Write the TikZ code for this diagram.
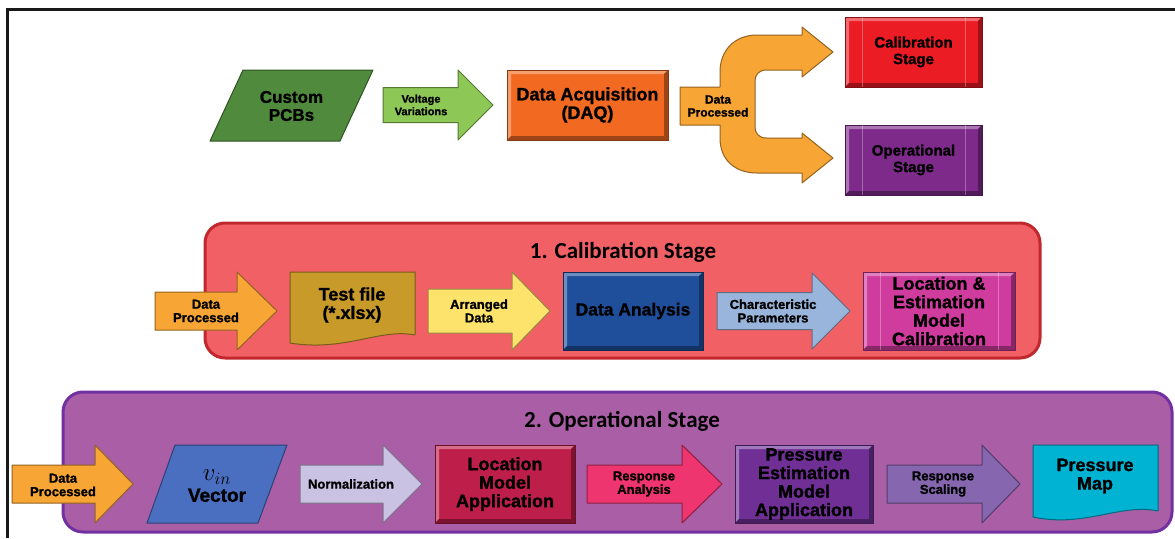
\documentclass[tikz,border=0pt]{standalone}
\usepackage{fontspec}
\setmainfont{Liberation Sans}[BoldFeatures={FakeBold=1.2}]
\newfontfamily\headfont{Carlito}
\usetikzlibrary{calc}

\definecolor{pcbgreen}{HTML}{508A3C}
\definecolor{voltgreen}{HTML}{8DC857}
\definecolor{daqorange}{HTML}{F26A22}
\definecolor{procorange}{HTML}{F7A535}
\definecolor{calred}{HTML}{EC1C24}
\definecolor{oppurple}{HTML}{7D2A8A}
\definecolor{calfill}{HTML}{F16065}
\definecolor{calline}{HTML}{C1272D}
\definecolor{testgold}{HTML}{C89A2A}
\definecolor{arryellow}{HTML}{FDE36C}
\definecolor{anablue}{HTML}{1F4F9B}
\definecolor{charblue}{HTML}{9AB5DC}
\definecolor{lecmag}{HTML}{CF3C9E}
\definecolor{opfill}{HTML}{A95EA6}
\definecolor{opline}{HTML}{7131A0}
\definecolor{vinblue}{HTML}{4A6EC0}
\definecolor{normlav}{HTML}{C9C2E3}
\definecolor{lmacrim}{HTML}{BE1E4A}
\definecolor{respink}{HTML}{EE356F}
\definecolor{pemapurp}{HTML}{6F2F95}
\definecolor{scalpurp}{HTML}{8666AE}
\definecolor{mapcyan}{HTML}{00B3D3}

\tikzset{
  lab/.style={align=center, text=black, inner sep=0pt},
  big/.style={lab, font=\bfseries\fontsize{18}{18.5}\selectfont},
  small/.style={lab, font=\bfseries\fontsize{13}{13.5}\selectfont},
  grouptitle/.style={inner sep=0pt, anchor=base, font=\headfont\bfseries\fontsize{23}{26}\selectfont},
  group/.style={draw=#1, line width=3pt, rounded corners=20pt, inner sep=0pt},
  shapeedge/.style={fill=#1, draw=#1!60!black, line width=1pt, line join=round},
  bevelbox/.style={draw=#1!55!black, fill=#1, line width=1pt, inner sep=0pt,
    path picture={
      \fill[#1!65!white]
        (path picture bounding box.north west) -- (path picture bounding box.north east)
        -- ([shift={(-4pt,-4pt)}]path picture bounding box.north east)
        -- ([shift={(4pt,-4pt)}]path picture bounding box.north west)
        -- ([shift={(4pt,4pt)}]path picture bounding box.south west)
        -- (path picture bounding box.south west) -- cycle;
      \fill[#1!65!black]
        (path picture bounding box.south east) -- (path picture bounding box.north east)
        -- ([shift={(-4pt,-4pt)}]path picture bounding box.north east)
        -- ([shift={(-4pt,4pt)}]path picture bounding box.south east)
        -- ([shift={(4pt,4pt)}]path picture bounding box.south west)
        -- (path picture bounding box.south west) -- cycle;
    }},
  subproc/.style={postaction={path picture={
      \draw[white, opacity=0.3, line width=0.8pt]
        ([xshift=17pt]path picture bounding box.north west) -- ([xshift=17pt]path picture bounding box.south west)
        ([xshift=-17pt]path picture bounding box.north east) -- ([xshift=-17pt]path picture bounding box.south east);
    }}}
}

% block arrow: name, colour, x start, x head base, x tip, y centre, shaft half-height, head half-height
\newcommand\blockarrow[8]{%
  \path[shapeedge=#2]
    (#3,{#6-#7}) -- (#4,{#6-#7}) -- (#4,{#6-#8}) -- (#5,#6) -- (#4,{#6+#8})
    -- (#4,{#6+#7}) -- (#3,{#6+#7}) -- cycle;
  \coordinate (#1) at ({(#3+#4)/2},#6);
}

\begin{document}
\begin{tikzpicture}[x=1pt, y=-1pt]
\useasboundingbox (0,0) rectangle (1175,538);

% frame lines
\draw[line width=3pt, black!90] (7.5,538) -- (7.5,9.5) -- (1175,9.5);

% ---------- overview row ----------
\path[shapeedge=pcbgreen] (243,70) -- (373,70) -- (340,141) -- (210,141) -- cycle;
\node[big, font=\bfseries\fontsize{17}{18}\selectfont] (pcb) at (291.5,106) {Custom\\PCBs};

\blockarrow{volt}{voltgreen}{383}{458}{493}{105}{17.5}{35}
\node[small, font=\bfseries\fontsize{11}{12.5}\selectfont] (voltlab) at (421,105) {Voltage\\Variations};

\node[bevelbox=daqorange, minimum width=161pt, minimum height=70pt] (daq) at (587.5,105) {};
\node[big] (daqlab) at (daq) {Data Acquisition\\(DAQ)};

% split arrow towards the two stages
\path[shapeedge=procorange]
  (680,87) -- (720,87) -- (720,72) .. controls (720,50) and (735,35) .. (757,35)
  -- (802,35) -- (802,27) -- (833,52) -- (802,77) -- (802,70)
  -- (767,70) .. controls (759,70) and (755,74) .. (755,82)
  -- (755,126) .. controls (755,134) and (759,138) .. (767,138)
  -- (802,138) -- (802,133) -- (833,158) -- (802,183) -- (802,173)
  -- (757,173) .. controls (735,173) and (720,160) .. (720,138)
  -- (720,125) -- (680,125) -- cycle;
\node[small, font=\bfseries\fontsize{12}{13}\selectfont] (dptop) at (718,106) {Data\\Processed};

\node[bevelbox=calred, subproc, minimum width=137pt, minimum height=70pt] (calbox) at (913.5,52) {};
\node[lab, font=\bfseries\fontsize{15}{16.5}\selectfont] (callab) at (calbox) {Calibration\\Stage};
\node[bevelbox=oppurple, subproc, minimum width=137pt, minimum height=70pt] (opbox) at (913.5,160) {};
\node[lab, font=\bfseries\fontsize{15}{16.5}\selectfont] (oplab) at (opbox) {Operational\\Stage};

% ---------- calibration stage ----------
\node[group=calline, fill=calfill, minimum width=835pt, minimum height=135pt] (calgrp) at (622.5,290.5) {};
\node[grouptitle] (caltitle) at (623,258) {1. Calibration Stage};

\blockarrow{dpcal}{procorange}{155}{237}{277}{311}{19}{39}
\node[small] (dpcallab) at (206,311) {Data\\Processed};

\path[shapeedge=testgold] (290,272) -- (415,272) -- (415,335)
  .. controls (380,328) and (345,352) .. (290,343) -- cycle;
\node[big] (tf) at (352,305) {Test file\\(*.xlsx)};

\blockarrow{arr}{arryellow}{428}{512}{550}{311}{22}{39}
\node[small] (arrlab) at (479,311) {Arranged\\Data};

\node[bevelbox=anablue, minimum width=140pt, minimum height=78pt] (dana) at (633,311) {};
\node[big, font=\bfseries\fontsize{17.5}{18}\selectfont] (danalab) at (dana) {Data Analysis};

\blockarrow{chr}{charblue}{717}{812}{850}{311}{18.5}{38}
\node[small] (chrlab) at (773,311) {Characteristic\\Parameters};

\node[bevelbox=lecmag, subproc, minimum width=152pt, minimum height=78pt] (lecal) at (939,311) {};
\node[big] (lecallab) at (lecal) {Location \&\\Estimation\\Model\\Calibration};

% ---------- operational stage ----------
\node[group=opline, fill=opfill, minimum width=1109pt, minimum height=140pt] (opgrp) at (617.5,462) {};
\node[grouptitle] (optitle) at (622,427) {2. Operational Stage};

\blockarrow{dpop}{procorange}{12}{95}{133}{484}{19}{39}
\node[small] (dpoplab) at (63,485) {Data\\Processed};

\path[shapeedge=vinblue] (175,445) -- (287,445) -- (258,523) -- (147,523) -- cycle;
\node[lab, font=\bfseries\fontsize{19}{20}\selectfont] (vin) at (217,486)
  {\fontsize{24}{20}\selectfont$v_{in}$\\[1pt]Vector};

\blockarrow{norm}{normlav}{300}{383}{422}{484}{19}{39}
\node[small] (normlab) at (351,484) {Normalization};

\node[bevelbox=lmacrim, minimum width=140pt, minimum height=78pt] (lma) at (505,484) {};
\node[big] (lmalab) at (lma) {Location\\Model\\Application};

\blockarrow{resa}{respink}{587}{682}{722}{484}{19}{39}
\node[small] (resalab) at (644,484) {Response\\Analysis};

\node[bevelbox=pemapurp, minimum width=138pt, minimum height=78pt] (pema) at (804,484) {};
\node[big] (pemalab) at (pema) {Pressure\\Estimation\\Model\\Application};

\blockarrow{ress}{scalpurp}{887}{982}{1020}{484}{19}{39}
\node[small] (resslab) at (943,484) {Response\\Scaling};

\path[shapeedge=mapcyan] (1033,445) -- (1158,445) -- (1158,511)
  .. controls (1120,503) and (1085,528) .. (1033,517) -- cycle;
\node[big] (pmap) at (1095,476) {Pressure\\Map};
\end{tikzpicture}
\end{document}
